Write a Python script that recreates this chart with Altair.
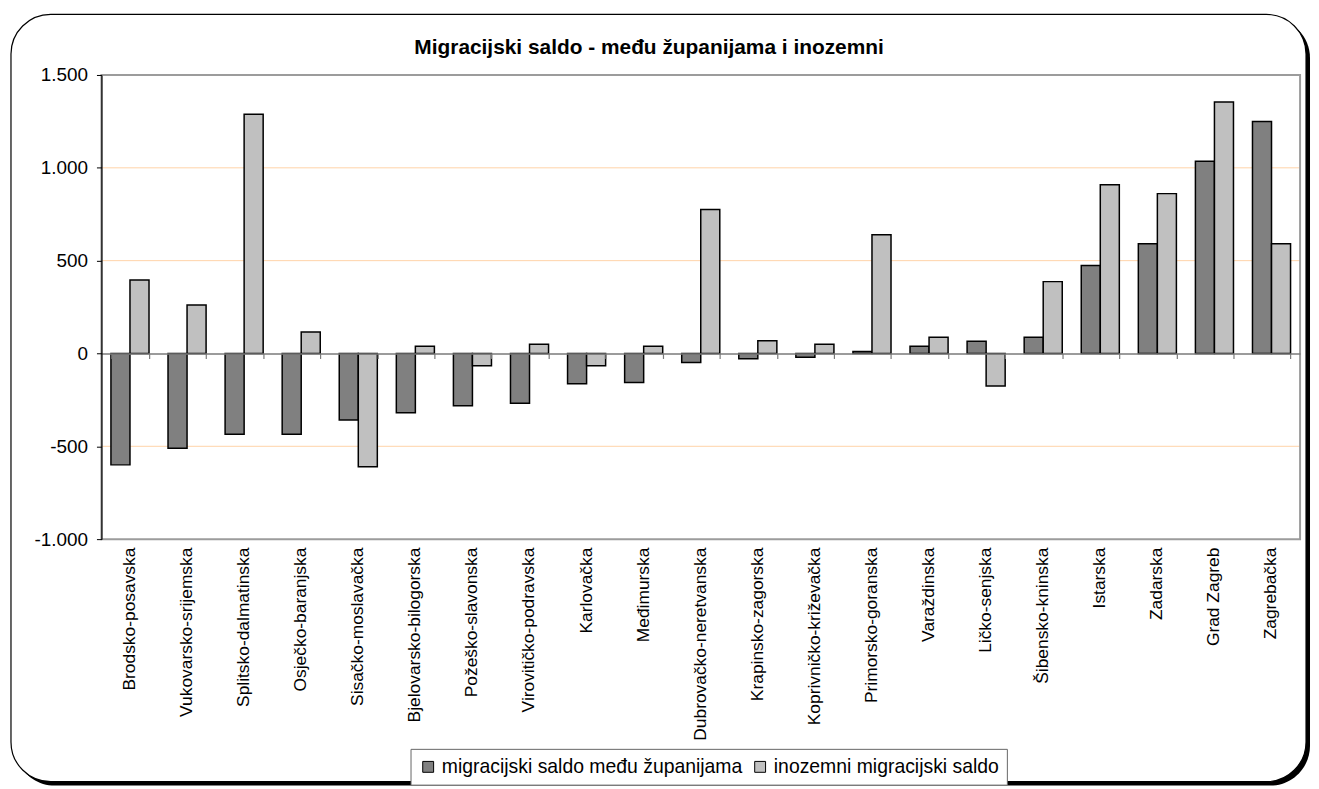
import altair as alt
import pandas as pd

categories = [
    "Brodsko-posavska", "Vukovarsko-srijemska", "Splitsko-dalmatinska",
    "Osječko-baranjska", "Sisačko-moslavačka", "Bjelovarsko-bilogorska",
    "Požeško-slavonska", "Virovitičko-podravska", "Karlovačka", "Međimurska",
    "Dubrovačko-neretvanska", "Krapinsko-zagorska", "Koprivničko-križevačka",
    "Primorsko-goranska", "Varaždinska", "Ličko-senjska", "Šibensko-kninska",
    "Istarska", "Zadarska", "Grad Zagreb", "Zagrebačka",
]
between_counties = [-600, -510, -435, -435, -358, -319, -281, -268, -163, -156,
                    -48, -29, -20, 10, 39, 66, 88, 474, 591, 1036, 1249]
foreign = [396, 261, 1289, 116, -610, 39, -66, 50, -66, 39,
           775, 68, 50, 639, 88, -175, 387, 909, 861, 1355, 591]
series_names = ["migracijski saldo među županijama", "inozemni migracijski saldo"]
series_colors = ["#808080", "#C0C0C0"]
y_ticks = [-1000, -500, 0, 500, 1000, 1500]
grid_values = [-500, 500, 1000]
title_text = "Migracijski saldo - među županijama i inozemni"

FONT = "Liberation Sans"
W, H = 1206, 467
Y_MIN, Y_MAX = -1000, 1500

rows = []
for c, a, b in zip(categories, between_counties, foreign):
    rows.append({"county": c, "series": series_names[0], "value": a})
    rows.append({"county": c, "series": series_names[1], "value": b})
df = pd.DataFrame(rows)

xscale = alt.Scale(domain=categories, paddingInner=0.333, paddingOuter=0.1667)
yscale = alt.Scale(domain=[Y_MIN, Y_MAX], nice=False, zero=False)
one = alt.Data(values=[{"a": 1}])

y_axis = alt.Axis(
    values=y_ticks, title=None, grid=False, domainColor="black",
    domainWidth=1.2, tickColor="black", tickSize=5, tickWidth=1,
    labelFont=FONT, labelFontSize=19, labelColor="black",
    labelPadding=9, zindex=2,
    labelExpr="(datum.value < 0 ? '-' : '') + replace(format(abs(datum.value), ','), ',', '.')",
)

shadow = alt.Chart(one).mark_rect(fill="black", cornerRadius=40).encode(
    x=alt.value(-87), x2=alt.value(1216), y=alt.value(-57), y2=alt.value(715)
)
frame = alt.Chart(one).mark_rect(
    fill="white", stroke="black", strokeWidth=1.2, cornerRadius=40
).encode(x=alt.value(-91), x2=alt.value(1212), y=alt.value(-61), y2=alt.value(711))

grid = alt.Chart(pd.DataFrame({"value": grid_values})).mark_rule(
    color="#FFD3A8", strokeWidth=1
).encode(y=alt.Y("value:Q", scale=yscale, axis=y_axis))

border = alt.Chart(one).mark_rect(
    fill="white", fillOpacity=0, stroke="#9C9C9C", strokeWidth=2
).encode(x=alt.value(0), x2=alt.value(W), y=alt.value(0), y2=alt.value(H))

zero_offset = -H * (0 - Y_MIN) / (Y_MAX - Y_MIN)

bars = alt.Chart(df).mark_bar(stroke="black", strokeWidth=1.5).encode(
    x=alt.X(
        "county:N", scale=xscale, sort=categories,
        axis=alt.Axis(
            orient="bottom", offset=zero_offset, labels=False, title=None,
            domainColor="#7A7A7A", domainWidth=1.5, tickColor="#7A7A7A",
            tickSize=5, tickWidth=1.2, tickBand="extent", zindex=1,
        ),
    ),
    xOffset=alt.XOffset(
        "series:N", sort=series_names,
        scale=alt.Scale(domain=series_names, paddingInner=0, paddingOuter=0),
    ),
    y=alt.Y("value:Q", scale=yscale, axis=y_axis),
    color=alt.Color(
        "series:N",
        scale=alt.Scale(domain=series_names, range=series_colors),
        legend=alt.Legend(
            title=None, orient="none", legendX=311, legendY=678,
            direction="horizontal", symbolType="square", symbolSize=120,
            symbolStrokeColor="black", symbolStrokeWidth=1,
            labelFont=FONT, labelFontSize=19.5, labelColor="black",
            labelOffset=4, labelLimit=600, columnPadding=8, padding=8,
            strokeColor="#666666", fillColor="white", zindex=1,
        ),
    ),
)

labels = alt.Chart(pd.DataFrame({"county": categories})).mark_point(opacity=0).encode(
    x=alt.X(
        "county:N", scale=xscale, sort=categories,
        axis=alt.Axis(
            orient="bottom", labelAngle=-90, labelAlign="right",
            labelBaseline="middle", labelFont=FONT, labelFontSize=17.5,
            labelColor="black", labelPadding=8, labelLimit=400,
            ticks=False, tickSize=0, domain=False, title=None, zindex=1,
        ),
    ),
    y=alt.value(0),
)

chart = alt.layer(shadow, frame, grid, bars, border, labels).resolve_axis(
    x="independent"
).properties(
    width=W, height=H,
    autosize=alt.AutoSizeParams(type="none"),
    padding={"left": 94, "top": 65, "right": 11, "bottom": 249},
    title=alt.Title(
        title_text, font=FONT, fontSize=21, fontWeight="bold", color="black",
        anchor="middle", frame="group", offset=0, dx=-52, dy=44, zindex=2,
    ),
).configure_view(strokeWidth=0).configure(font=FONT)

chart.save("out.html", embed_options={"renderer": "svg", "actions": False})
